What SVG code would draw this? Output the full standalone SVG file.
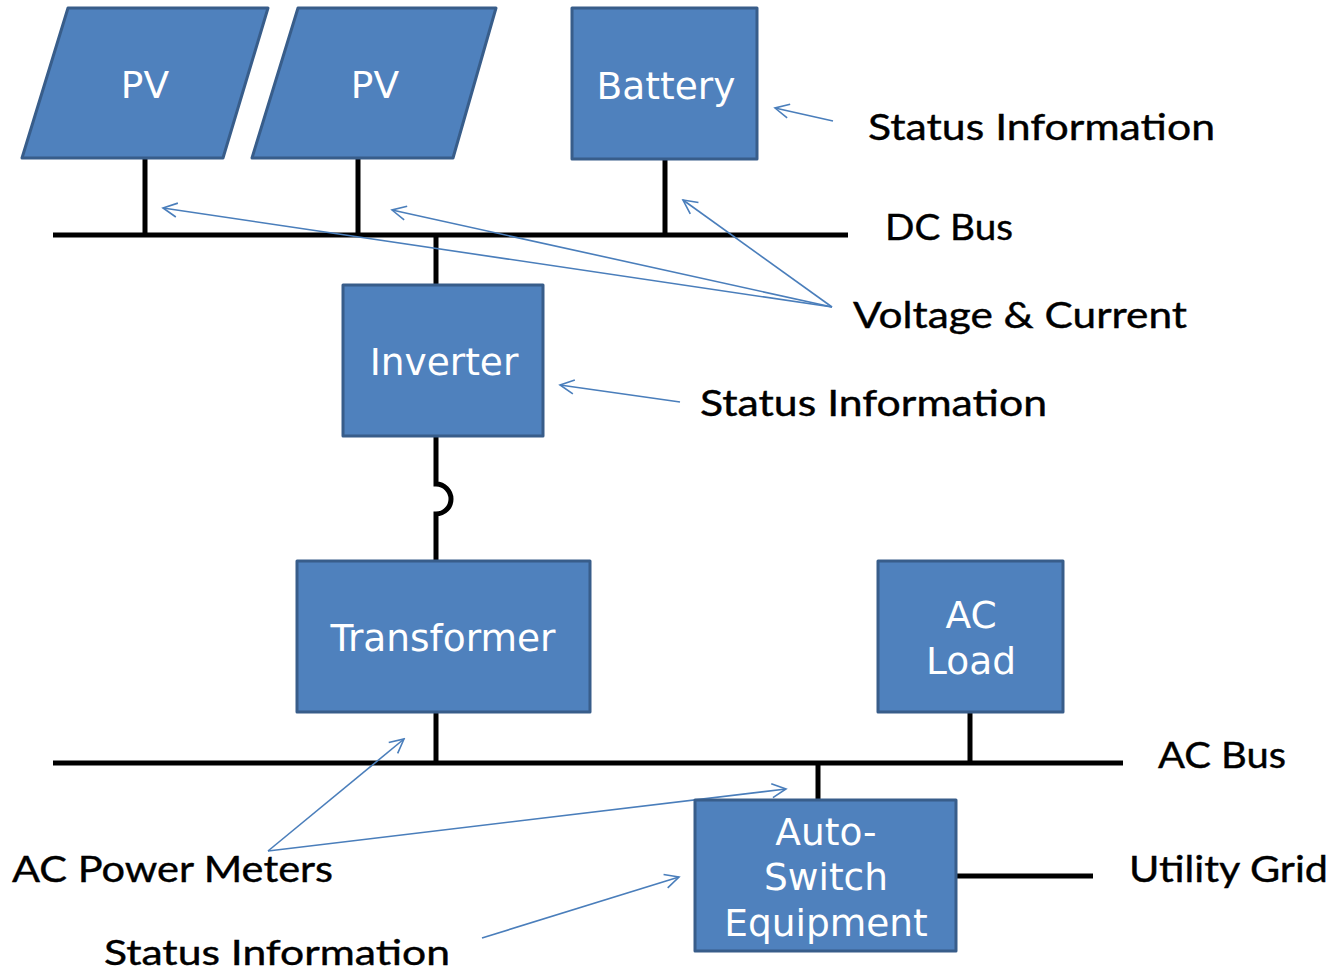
<svg xmlns="http://www.w3.org/2000/svg" width="1335" height="973" viewBox="0 0 1335 973">
<style>
.node{fill:#4F81BD;stroke:#385D8A;stroke-width:3;stroke-linejoin:round}
.nt{font-family:"DejaVu Sans",Verdana,sans-serif;font-size:37.5px;fill:#FFFFFF;text-anchor:middle}
.wire{stroke:#000;stroke-width:5;fill:none}
.ptr{stroke:#4A7EBB;stroke-width:1.6;fill:none;marker-end:url(#arr)}
.lbl{font-family:Lato,"Liberation Sans",sans-serif;font-size:36px;fill:#000;stroke:#000;stroke-width:0.4}
</style>
<defs>
<marker id="arr" markerUnits="userSpaceOnUse" markerWidth="20" markerHeight="20" viewBox="0 0 20 20" refX="18" refY="10" orient="auto">
<path d="M4,3 L18,10 L4,17" fill="none" stroke="#4A7EBB" stroke-width="1.6"/>
</marker>
</defs>
<rect width="1335" height="973" fill="#FFFFFF"/>
<g id="connectors">
<path class="wire" d="M53,235 H848"/>
<path class="wire" d="M145,158 V235"/>
<path class="wire" d="M358,158 V235"/>
<path class="wire" d="M665,159 V235"/>
<path class="wire" d="M436,235 V285"/>
<path class="wire" d="M436,436 V484 A15,15 0 0 1 436,514 V561"/>
<path class="wire" d="M53,763 H1123"/>
<path class="wire" d="M436,712 V763"/>
<path class="wire" d="M970,712 V763"/>
<path class="wire" d="M818,763 V800"/>
<path class="wire" d="M956,876 H1093"/>
<line class="ptr" x1="833" y1="121" x2="775" y2="108"/>
<line class="ptr" x1="832" y1="307" x2="163" y2="208"/>
<line class="ptr" x1="832" y1="307" x2="392" y2="210"/>
<line class="ptr" x1="832" y1="307" x2="683" y2="200"/>
<line class="ptr" x1="680" y1="402" x2="560" y2="385"/>
<line class="ptr" x1="268" y1="851" x2="404" y2="739"/>
<line class="ptr" x1="268" y1="851" x2="786" y2="789"/>
<line class="ptr" x1="482" y1="938" x2="679" y2="877"/>
</g>
<g id="pv1">
<polygon class="node" points="68,8 268,8 223,158 22,158"/>
<text class="nt" x="145" y="98">PV</text>
</g>
<g id="pv2">
<polygon class="node" points="298,8 496,8 453,158 252,158"/>
<text class="nt" x="375" y="98">PV</text>
</g>
<g id="battery">
<rect class="node" x="572" y="8" width="185" height="151"/>
<text class="nt" x="666" y="99">Battery</text>
</g>
<g id="inverter">
<rect class="node" x="343" y="285" width="200" height="151"/>
<text class="nt" x="444" y="375">Inverter</text>
</g>
<g id="transformer">
<rect class="node" x="297" y="561" width="293" height="151"/>
<text class="nt" x="443" y="651">Transformer</text>
</g>
<g id="acload">
<rect class="node" x="878" y="561" width="185" height="151"/>
<text class="nt" x="971" y="628">AC</text>
<text class="nt" x="971" y="674">Load</text>
</g>
<g id="autoswitch">
<rect class="node" x="695" y="800" width="261" height="151"/>
<text class="nt" x="826" y="845">Auto-</text>
<text class="nt" x="826" y="890">Switch</text>
<text class="nt" x="826" y="936">Equipment</text>
</g>
<g id="labels">
<text class="lbl" x="868" y="140" textLength="347" lengthAdjust="spacingAndGlyphs">Status Information</text>
<text class="lbl" x="885" y="240" textLength="128" lengthAdjust="spacingAndGlyphs">DC Bus</text>
<text class="lbl" x="853" y="328" textLength="334" lengthAdjust="spacingAndGlyphs">Voltage &amp; Current</text>
<text class="lbl" x="700" y="416" textLength="347" lengthAdjust="spacingAndGlyphs">Status Information</text>
<text class="lbl" x="1158" y="768" textLength="128" lengthAdjust="spacingAndGlyphs">AC Bus</text>
<text class="lbl" x="1129" y="882" textLength="199" lengthAdjust="spacingAndGlyphs">Utility Grid</text>
<text class="lbl" x="12" y="882" textLength="321" lengthAdjust="spacingAndGlyphs">AC Power Meters</text>
<text class="lbl" x="104" y="965" style="font-size:34px" textLength="346" lengthAdjust="spacingAndGlyphs">Status Information</text>
</g>
</svg>
